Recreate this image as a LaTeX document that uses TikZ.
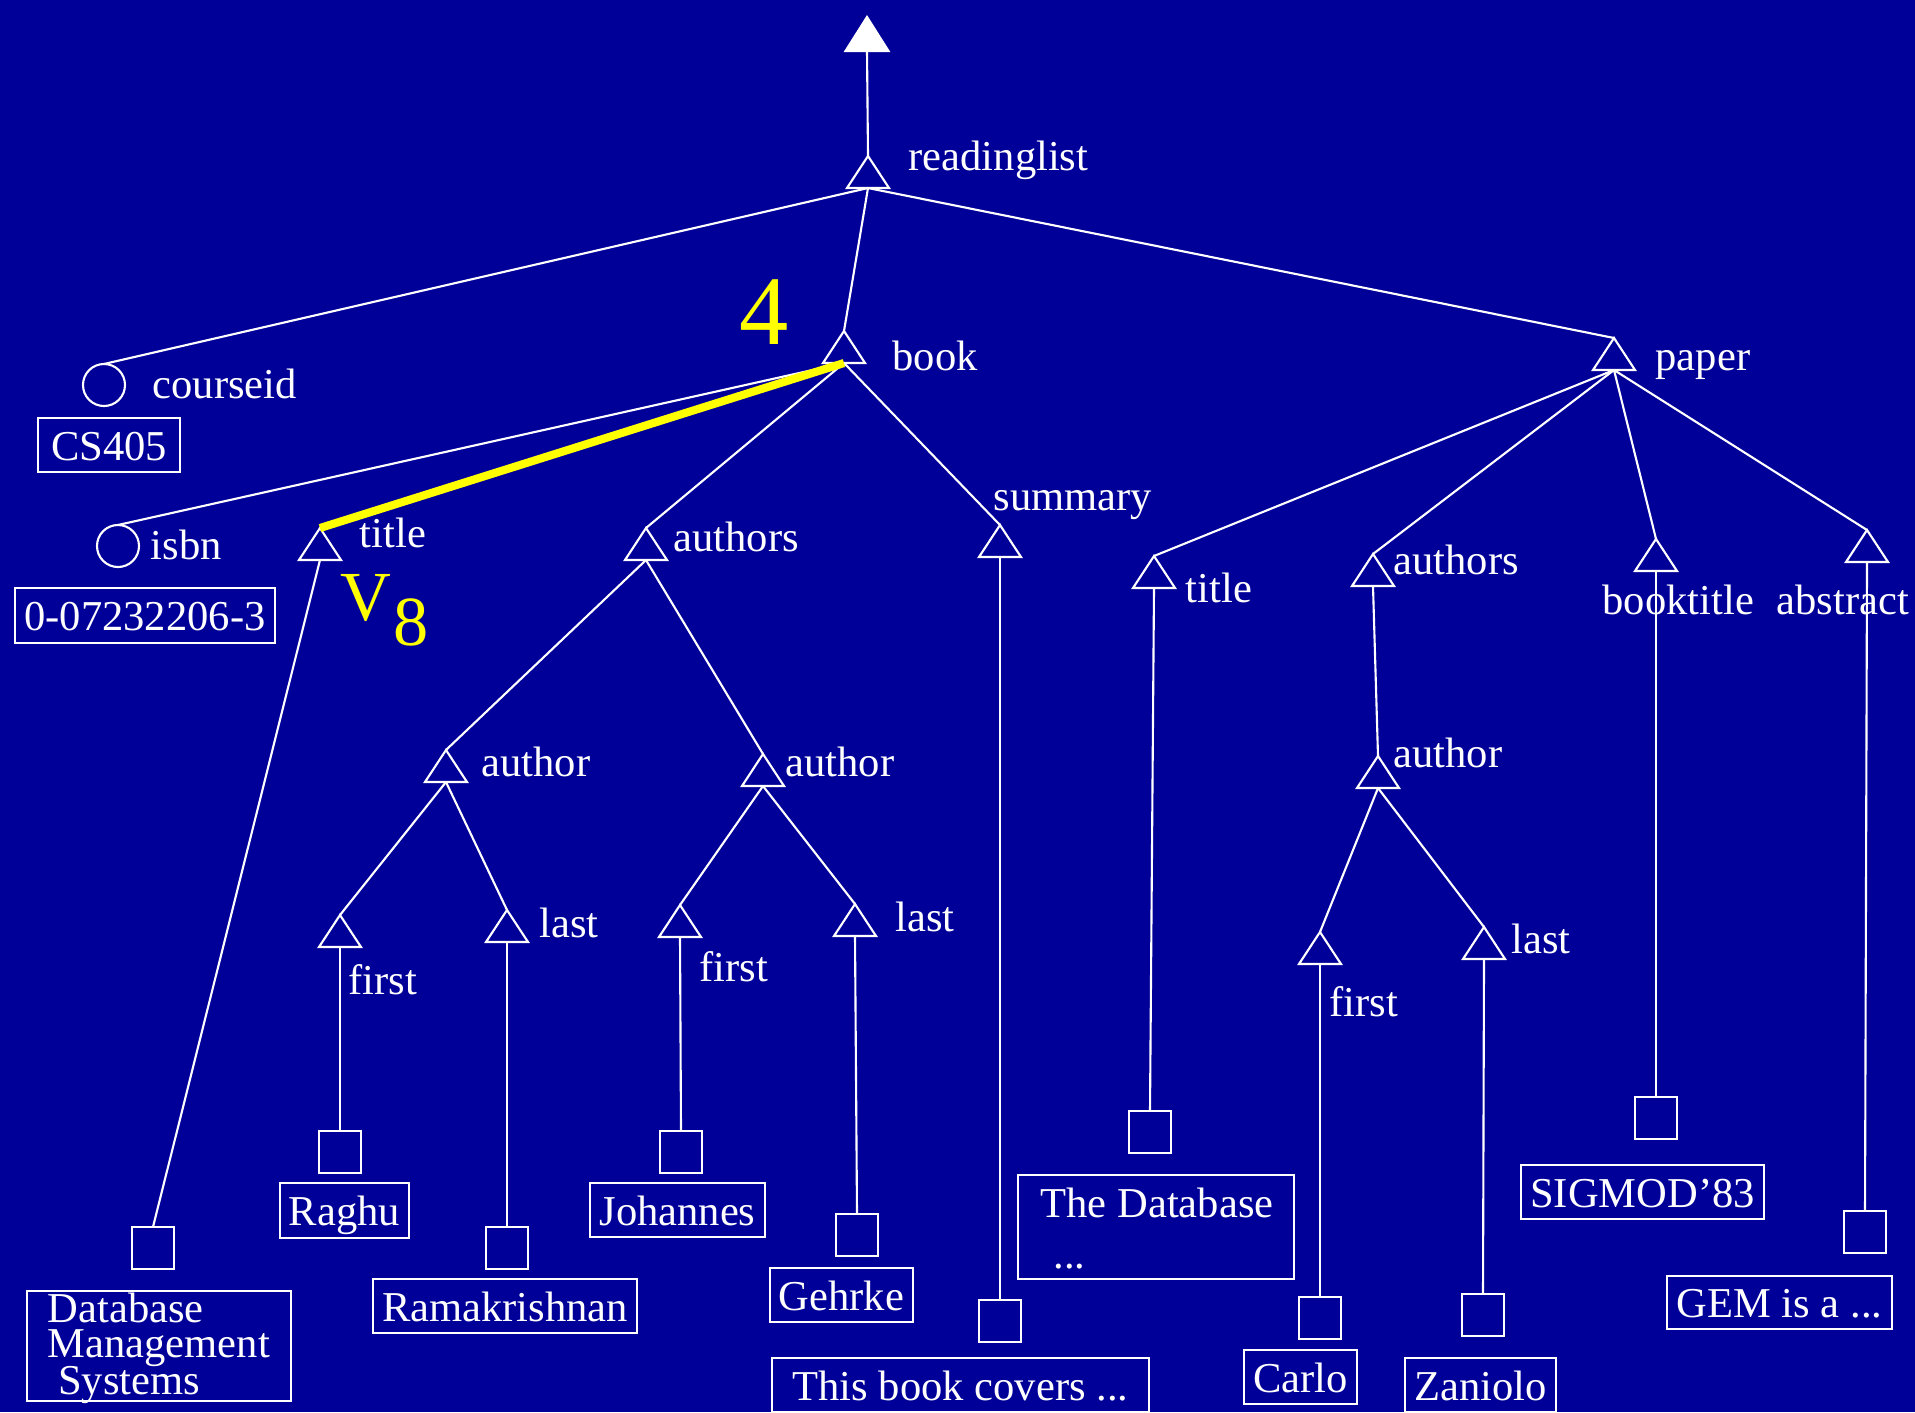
\documentclass[tikz,border=0pt]{standalone}
\usepackage{fontspec}
\setmainfont{Liberation Serif}
\usetikzlibrary{shapes.geometric}
\definecolor{slidebg}{RGB}{0,0,153}
\definecolor{hl}{RGB}{255,255,0}
\newcommand\lblfont{\fontsize{12.1pt}{14pt}\selectfont}

\begin{document}
\begin{tikzpicture}[x=0.01cm,y=-0.01cm,
  edge/.style={draw=white, line width=0.6pt},
  hledge/.style={draw=hl, line width=2.3pt},
  tri/.style={isosceles triangle, isosceles triangle stretches, shape border rotate=90,
    draw=white, line width=0.6pt, minimum width=0.42cm, minimum height=0.32cm,
    inner sep=0pt, outer sep=0pt, anchor=apex},
  attr/.style={circle, draw=white, line width=0.6pt, minimum size=0.42cm, inner sep=0pt, outer sep=0pt},
  leaf/.style={rectangle, draw=white, line width=0.6pt, minimum size=0.42cm, inner sep=0pt, outer sep=0pt},
  val/.style={rectangle, draw=white, line width=0.6pt, inner sep=0pt, text=white, font=\lblfont,
    text height=0.30cm, text depth=0cm},
  lab/.style={text=white, font=\lblfont, inner sep=0pt, anchor=base west},
  hltext/.style={text=hl, inner sep=0pt, anchor=base west}
]
\fill[slidebg] (0,0) rectangle (1915,1412);
\useasboundingbox (0,0) rectangle (1915,1412);

% element nodes (triangles)
\node[tri, fill=white, minimum width=0.43cm, minimum height=0.34cm] (root) at (867,17) {};
\node[tri] (rl) at (868,156) {};
\node[tri] (book) at (844,331) {};
\node[tri] (paper) at (1614,338) {};
\node[tri] (btitle) at (320,528) {};
\node[tri] (bauth) at (646,528) {};
\node[tri] (summ) at (1000,525) {};
\node[tri] (au1) at (446,750) {};
\node[tri] (au2) at (763,754) {};
\node[tri] (f1) at (340,915) {};
\node[tri] (l1) at (507,910) {};
\node[tri] (f2) at (680,905) {};
\node[tri] (l2) at (855,904) {};
\node[tri] (ptitle) at (1154,556) {};
\node[tri] (pauth) at (1373,554) {};
\node[tri] (pau) at (1378,756) {};
\node[tri] (pf) at (1320,932) {};
\node[tri] (pl) at (1484,927) {};
\node[tri] (bt) at (1656,539) {};
\node[tri] (abs) at (1867,530) {};

% attribute nodes (circles)
\node[attr] (cid) at (104,385) {};
\node[attr] (isbn) at (118,546) {};

% text nodes (squares)
\node[leaf] (btitlesq) at (153,1248) {};
\node[leaf] (f1sq) at (340,1152) {};
\node[leaf] (l1sq) at (507,1248) {};
\node[leaf] (f2sq) at (681,1152) {};
\node[leaf] (l2sq) at (857,1235) {};
\node[leaf] (summsq) at (1000,1321) {};
\node[leaf] (ptsq) at (1150,1132) {};
\node[leaf] (pfsq) at (1320,1318) {};
\node[leaf] (plsq) at (1483,1315) {};
\node[leaf] (btsq) at (1656,1118) {};
\node[leaf] (abssq) at (1865,1232) {};

% tag labels
\node[lab] (rllab) at (908,170) {readinglist};
\node[lab] (cidlab) at (152,398) {courseid};
\node[lab] (booklab) at (892,370) {book};
\node[lab] (paperlab) at (1655,370) {paper};
\node[lab] (isbnlab) at (150,559) {isbn};
\node[lab] (btitlelab) at (359,547) {title};
\node[lab] (bauthlab) at (673,551) {authors};
\node[lab] (summlab) at (993,510) {summary};
\node[lab] (au1lab) at (481,776) {author};
\node[lab] (au2lab) at (785,776) {author};
\node[lab] (f1lab) at (348,994) {first};
\node[lab] (l1lab) at (539,937) {last};
\node[lab] (f2lab) at (699,981) {first};
\node[lab] (l2lab) at (895,931) {last};
\node[lab] (ptitlelab) at (1185,602) {title};
\node[lab] (pauthlab) at (1393,574) {authors};
\node[lab] (paulab) at (1393,767) {author};
\node[lab] (pflab) at (1329,1016) {first};
\node[lab] (pllab) at (1511,953) {last};
\node[lab] (btlab) at (1602,614) {booktitle};
\node[lab] (abslab) at (1776,614) {abstract};

% values
\node[val, minimum width=1.42cm, minimum height=0.54cm] (cidval) at (109,445) {CS405};
\node[val, minimum width=2.60cm, minimum height=0.55cm] (isbnval) at (145,615.5) {0-07232206-3};
\node[val, minimum width=2.64cm, minimum height=1.10cm] (btitleval) at (159,1346) {};
\node[lab, anchor=north west, align=left] (dbms) at (47,1292)
  {Database\\[-4pt]Management\\[-3.5pt]\hspace{3pt}Systems};
\node[val, minimum width=1.29cm, minimum height=0.55cm] (f1val) at (344.5,1210.5) {Raghu};
\node[val, minimum width=2.64cm, minimum height=0.54cm] (l1val) at (505,1306) {Ramakrishnan};
\node[val, minimum width=1.75cm, minimum height=0.54cm] (f2val) at (677.5,1210) {Johannes};
\node[val, minimum width=1.43cm, minimum height=0.54cm] (l2val) at (841.5,1295) {Gehrke};
\node[val, minimum width=3.77cm, minimum height=0.54cm] (summval) at (960.5,1385) {This book covers ...};
\node[val, minimum width=2.76cm, minimum height=1.04cm] (ptval) at (1156,1227) {};
\node[lab] (ptv1) at (1040,1217) {The Database};
\node[lab] (ptv2) at (1053,1268) {...};
\node[val, minimum width=1.13cm, minimum height=0.54cm] (pfval) at (1300.5,1377) {Carlo};
\node[val, minimum width=1.51cm, minimum height=0.54cm] (plval) at (1480.5,1385) {Zaniolo};
\node[val, minimum width=2.43cm, minimum height=0.54cm] (btval) at (1642.5,1192) {SIGMOD’83};
\node[val, minimum width=2.25cm, minimum height=0.53cm] (absval) at (1779.5,1302.5) {GEM is a ...};

% highlighted step
\node[hltext, font=\fontsize{28pt}{30pt}\selectfont] (stepno) at (739,344) {4};
\node[hltext, font=\fontsize{20pt}{22pt}\selectfont] (vee) at (340,620) {V};
\node[hltext, font=\fontsize{20pt}{22pt}\selectfont] (veeidx) at (393,645) {8};

% tree edges
\draw[edge] (rl.apex) -- (root.lower side);
\draw[edge] (rl.lower side) -- (cid.north);
\draw[edge] (rl.lower side) -- (book.apex);
\draw[edge] (rl.lower side) -- (paper.apex);
\draw[edge] (book.lower side) -- (isbn.north);
\draw[edge] (book.lower side) -- (bauth.apex);
\draw[edge] (book.lower side) -- (summ.apex);
\draw[edge] (btitle.lower side) -- (btitlesq.north);
\draw[edge] (bauth.lower side) -- (au1.apex);
\draw[edge] (bauth.lower side) -- (au2.apex);
\draw[edge] (au1.lower side) -- (f1.apex);
\draw[edge] (au1.lower side) -- (l1.apex);
\draw[edge] (au2.lower side) -- (f2.apex);
\draw[edge] (au2.lower side) -- (l2.apex);
\draw[edge] (f1.lower side) -- (f1sq.north);
\draw[edge] (l1.lower side) -- (l1sq.north);
\draw[edge] (f2.lower side) -- (f2sq.north);
\draw[edge] (l2.lower side) -- (l2sq.north);
\draw[edge] (summ.lower side) -- (summsq.north);
\draw[edge] (paper.lower side) -- (ptitle.apex);
\draw[edge] (paper.lower side) -- (pauth.apex);
\draw[edge] (paper.lower side) -- (bt.apex);
\draw[edge] (paper.lower side) -- (abs.apex);
\draw[edge] (ptitle.lower side) -- (ptsq.north);
\draw[edge] (pauth.lower side) -- (pau.apex);
\draw[edge] (pau.lower side) -- (pf.apex);
\draw[edge] (pau.lower side) -- (pl.apex);
\draw[edge] (pf.lower side) -- (pfsq.north);
\draw[edge] (pl.lower side) -- (plsq.north);
\draw[edge] (bt.lower side) -- (btsq.north);
\draw[edge] (abs.lower side) -- (abssq.north);
\draw[hledge] (book.lower side) -- (btitle.apex);
\end{tikzpicture}
\end{document}
